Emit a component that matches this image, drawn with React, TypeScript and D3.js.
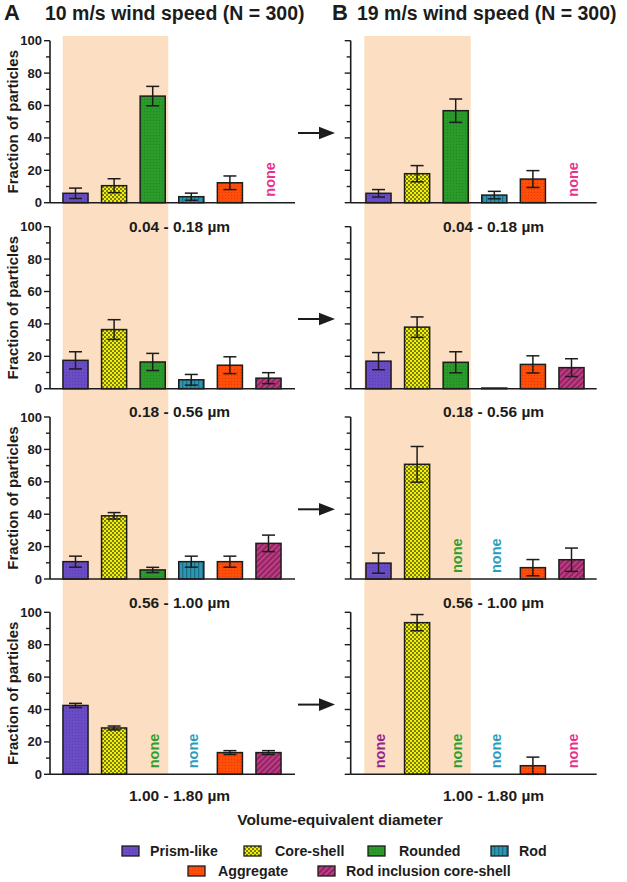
import React from "react";
import * as d3 from "d3";

const categories = ["Prism-like", "Core-shell", "Rounded", "Rod", "Aggregate", "Rod inclusion core-shell"];
const sizeRanges = ["0.04 - 0.18 µm", "0.18 - 0.56 µm", "0.56 - 1.00 µm", "1.00 - 1.80 µm"];
const panelLetters = ["A", "B"];
const panelTitles = ["10 m/s wind speed (N = 300)", "19 m/s wind speed (N = 300)"];
const yTicks = [0, 10, 20, 30, 40, 50, 60, 70, 80, 90, 100];

// null = "none"
const wind10Values = [
  [5.8, 10.5, 65.8, 3.7, 12.3, null],
  [17.5, 36.5, 16.5, 5.5, 14.5, 6.5],
  [10.7, 39, 5.6, 10.7, 10.7, 22],
  [42.5, 28.6, null, null, 13.4, 13.4],
];
const wind10Errors = [
  [3.2, 4.3, 6, 2.2, 4.2, null],
  [5.3, 6.1, 5.3, 3.3, 5.2, 3.4],
  [3.4, 2, 1.6, 3.4, 3.4, 5.1],
  [1.3, 1.2, null, null, 1.2, 1.2],
];
const wind19Values = [
  [5.8, 17.9, 56.8, 4.7, 14.6, null],
  [17, 38, 16.3, 0.4, 15, 13],
  [9.8, 70.8, null, null, 7, 11.9],
  [null, 93.6, null, null, 5.3, null],
];
const wind19Errors = [
  [2.3, 5, 7.2, 2.3, 5.2, null],
  [5.3, 6.3, 6.5, 0, 5.3, 5.5],
  [6.2, 11, null, null, 5, 7.2],
  [null, 5, null, null, 5.3, null],
];

const catColors = ["#6A4DC5", "#F2F200", "#2A9A2A", "#2B97B3", "#FF4D0A", "#A32C6E"];
const noneColors = ["#94268F", "#C8C800", "#2E9F2E", "#2C9CBE", "#FF4D0A", "#E8328C"];

const rowTops = [40.7, 226.7, 417, 612.3];
const rowH = 162;
const panels = [
  { axisX: 50, axisEnd: 295, band: [56.2, 287.8], shade: [62.7, 168.3], labelX: 129, letterX: 4, titleX: 45 },
  { axisX: 350.7, axisEnd: 596.7, band: [359.2, 590.8], shade: [364.3, 470.7], labelX: 443, letterX: 332, titleX: 357 },
];
const labelYs = [231.5, 416.5, 608, 801];
const FONT = "'Liberation Sans', Arial, Helvetica, sans-serif";
const INK = "#1c1c1c";

function Bars({ p, r, values, errors }) {
  const x = d3.scaleBand().domain(categories).range(p.band).paddingInner(0.35).paddingOuter(0.175);
  const y = d3.scaleLinear().domain([0, 100]).range([rowTops[r] + rowH, rowTops[r]]);
  const bw = x.bandwidth();
  const y0 = y(0);
  return (
    <g>
      <line x1={p.axisX} x2={p.axisX} y1={y(100)} y2={y0} stroke={INK} strokeWidth={1.6} />
      {yTicks.map((t) => (
        <line key={t} x1={p.axisX - (t % 20 === 0 ? 6 : 4)} x2={p.axisX} y1={y(t)} y2={y(t)} stroke={INK} strokeWidth={1.4} />
      ))}
      {p.axisX < 100 &&
        yTicks.filter((t) => t % 20 === 0).map((t) => (
          <text key={"l" + t} x={p.axisX - 8} y={y(t)} dy="0.35em" textAnchor="end" fontSize={13} fontWeight="bold" fill={INK}>
            {t}
          </text>
        ))}
      {categories.map((c, i) => {
        const v = values[r][i];
        const e = errors[r][i];
        const cx = x(c) + bw / 2;
        if (v === null) {
          return (
            <text key={c} transform={`translate(${cx + 1.5},${y0 - 6}) rotate(-90)`} dominantBaseline="central" fontSize={14.5} fontWeight="bold" fill={noneColors[i]}>
              none
            </text>
          );
        }
        return (
          <g key={c}>
            <rect x={x(c)} y={y(v)} width={bw} height={Math.max(0.5, y0 - y(v))} fill={`url(#pat${i})`} stroke={INK} strokeWidth={1.5} />
            {e > 0 && (
              <g stroke={INK} strokeWidth={1.5}>
                <line x1={cx} x2={cx} y1={y(v + e)} y2={y(Math.max(0, v - e))} />
                <line x1={cx - 6.5} x2={cx + 6.5} y1={y(v + e)} y2={y(v + e)} />
                <line x1={cx - 6.5} x2={cx + 6.5} y1={y(Math.max(0, v - e))} y2={y(Math.max(0, v - e))} />
              </g>
            )}
          </g>
        );
      })}
      <line x1={p.axisX} x2={p.axisEnd} y1={y0} y2={y0} stroke={INK} strokeWidth={1.6} />
    </g>
  );
}

export default function App() {
  const W = 627;
  const H = 882;
  const shadeTop = 36;
  const shadeBottom = rowTops[3] + rowH;
  const legendRows = [
    [
      { i: 0, sx: 122, tx: 150, y: 851 },
      { i: 1, sx: 244, tx: 275, y: 851 },
      { i: 2, sx: 368, tx: 399, y: 851 },
      { i: 3, sx: 491, tx: 519, y: 851 },
    ],
    [
      { i: 4, sx: 188, tx: 218, y: 871 },
      { i: 5, sx: 318, tx: 346, y: 871 },
    ],
  ];
  return (
    <svg width={W} height={H} style={{ position: "absolute", left: 0, top: 0, background: "#fff" }} fontFamily={FONT}>
      <defs>
        <pattern id="pat0" width="3" height="3" patternUnits="userSpaceOnUse">
          <rect width="3" height="3" fill={catColors[0]} />
          <rect width="1" height="1" fill="#5A3EB0" />
        </pattern>
        <pattern id="pat1" width="4" height="4" patternUnits="userSpaceOnUse">
          <rect width="4" height="4" fill={catColors[1]} />
          <circle cx="1" cy="1" r="0.95" fill="#4a4a20" />
          <circle cx="3" cy="3" r="0.95" fill="#4a4a20" />
        </pattern>
        <pattern id="pat2" width="3" height="3" patternUnits="userSpaceOnUse">
          <rect width="3" height="3" fill={catColors[2]} />
          <rect width="1" height="1" fill="#1F861F" />
        </pattern>
        <pattern id="pat3" width="4" height="4" patternUnits="userSpaceOnUse">
          <rect width="4" height="4" fill={catColors[3]} />
          <rect x="2" width="1.3" height="4" fill="#1D6F88" />
        </pattern>
        <pattern id="pat4" width="3" height="3" patternUnits="userSpaceOnUse">
          <rect width="3" height="3" fill={catColors[4]} />
          <rect width="1" height="1" fill="#E23A00" />
        </pattern>
        <pattern id="pat5" width="4" height="4" patternUnits="userSpaceOnUse" patternTransform="rotate(45)">
          <rect width="4" height="4" fill="#962466" />
          <rect width="1.3" height="4" fill="#CC4A8E" />
        </pattern>
      </defs>
      <rect width={W} height={H} fill="#fff" />
      {panels.map((p, k) => (
        <rect key={"sh" + k} x={p.shade[0]} y={shadeTop} width={p.shade[1] - p.shade[0]} height={shadeBottom - shadeTop} fill="#FCDFC2" />
      ))}
      {panels.map((p, k) => (
        <g key={"t" + k} fill={INK} fontWeight="bold">
          <text x={p.letterX} y={19.5} fontSize={22}>{panelLetters[k]}</text>
          <text x={p.titleX} y={19.5} fontSize={19.5}>{panelTitles[k]}</text>
        </g>
      ))}
      {rowTops.map((top, r) => (
        <g key={"row" + r}>
          <text transform={`translate(12,${top + rowH / 2}) rotate(-90)`} textAnchor="middle" dominantBaseline="central" fontSize={15} fontWeight="bold" fill={INK}>
            Fraction of particles
          </text>
          <Bars p={panels[0]} r={r} values={wind10Values} errors={wind10Errors} />
          <Bars p={panels[1]} r={r} values={wind19Values} errors={wind19Errors} />
          {panels.map((p, k) => (
            <text key={"lab" + k} x={p.labelX} y={labelYs[r]} fontSize={15.5} fontWeight="bold" fill={INK}>
              {sizeRanges[r]}
            </text>
          ))}
          <line x1={298} x2={322} y1={top + 92.3} y2={top + 92.3} stroke={INK} strokeWidth={2} />
          <path d={`M335,${top + 92.3} L319,${top + 86} L319,${top + 98.6} Z`} fill={INK} />
        </g>
      ))}
      <text x={340} y={825} textAnchor="middle" fontSize={15.5} fontWeight="bold" fill={INK}>
        Volume-equivalent diameter
      </text>
      {legendRows.flat().map((it) => (
        <g key={"lg" + it.i}>
          <rect x={it.sx} y={it.y - 5} width={17} height={10} fill={`url(#pat${it.i})`} stroke={INK} strokeWidth={1.3} />
          <text x={it.tx} y={it.y} dy="0.35em" fontSize={14.2} fontWeight="bold" fill={INK}>
            {categories[it.i]}
          </text>
        </g>
      ))}
    </svg>
  );
}
